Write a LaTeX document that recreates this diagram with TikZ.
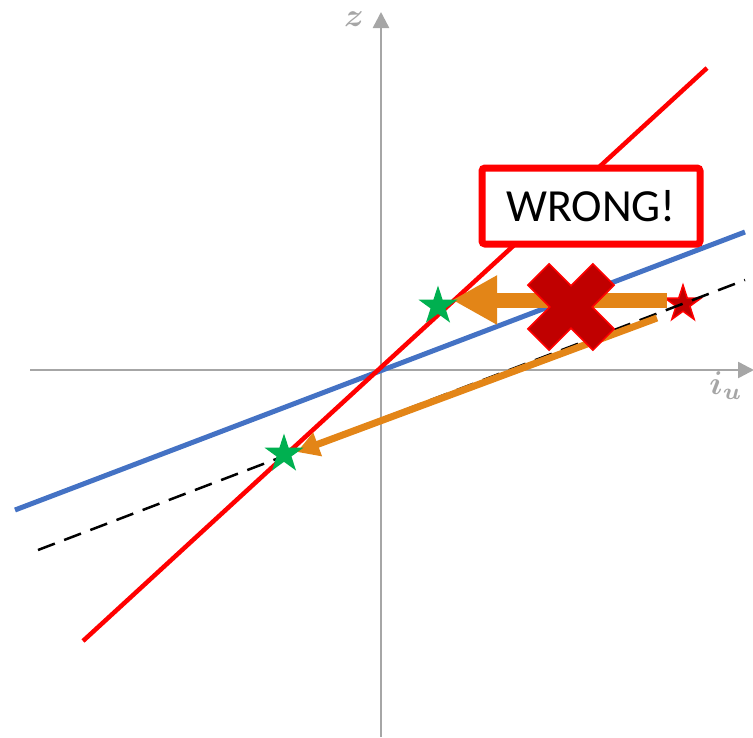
\documentclass[tikz,border=0pt]{standalone}
\usepackage{graphicx}
\usepackage{fontspec}
\newfontfamily\boxfont{Carlito}
\usetikzlibrary{arrows.meta,shapes.geometric}
\definecolor{axisgray}{HTML}{A6A6A6}
\definecolor{lineblue}{HTML}{4472C4}
\definecolor{arroworange}{HTML}{E38517}
\definecolor{stargreen}{HTML}{00B050}
\definecolor{darkred}{HTML}{C00000}
\tikzset{
  axisline/.style={draw=axisgray,line width=2.5pt,-{Triangle[width=16pt,length=16pt]}},
  axislabel/.style={text=axisgray,inner sep=0pt},
  greenstar/.style={star,star points=5,star point ratio=2.618,fill=stargreen,inner sep=0pt,minimum size=41pt},
  redstar/.style={star,star points=5,star point ratio=2.618,fill=darkred,draw=red,line width=1.5pt,inner sep=0pt,minimum size=38pt},
  bigarrow/.style={draw=arroworange,line width=15pt,-{Triangle[width=46pt,length=45pt]}},
  slantarrow/.style={draw=arroworange,line width=7pt,line cap=butt,-{Triangle[width=24pt,length=22pt]}},
  wrongbox/.style={draw=red,fill=white,line width=7pt,rounded corners=3pt,minimum width=218pt,minimum height=76pt,inner sep=0pt,font=\boxfont\fontsize{46}{50}\selectfont},
}
\begin{document}
\begin{tikzpicture}[x=1pt,y=-1pt]
\useasboundingbox (0,0) rectangle (753,737);
% axes
\coordinate (xs) at (30,370);
\coordinate (xe) at (754,370);
\coordinate (ys) at (381,737);
\coordinate (ye) at (381,12);
\draw[axisline] (xs) -- (xe);
\draw[axisline] (ys) -- (ye);
\node[axislabel] (zl) at (354,19) {\scalebox{3.3}{\boldmath$z$}};
\node[axislabel] (il) at (726,386) {\scalebox{3.3}{\boldmath$i_u$}};
% lines
\coordinate (r1) at (83,641);
\coordinate (r2) at (707,68);
\coordinate (b1) at (15,510);
\coordinate (b2) at (745,232);
\coordinate (d1) at (38,550);
\coordinate (d2) at (745,280);
\draw[lineblue,line width=5pt] (b1) -- (b2);
\draw[red,line width=4.5pt] (r1) -- (r2);
% red star
\node[redstar] (rs) at (683,304) {};
% dashed line
\draw[black,line width=2.5pt,dash pattern=on 18pt off 10pt] (d1) -- (d2);
% orange arrows
\coordinate (a1s) at (667,300);
\coordinate (a1e) at (452,300);
\coordinate (a2s) at (657,318);
\coordinate (a2e) at (297,452);
\draw[slantarrow] (a2s) -- (a2e);
\draw[bigarrow] (a1s) -- (a1e);
% green stars
\node[greenstar] (g1) at (438,306) {};
\node[greenstar] (g2) at (284,454) {};
% cross
\fill[darkred,draw=red,line width=1.5pt,shift={(571,307)},rotate=45]
  (46,15) -- (15,15) -- (15,46) -- (-15,46) -- (-15,15) -- (-46,15) -- (-46,-15)
  -- (-15,-15) -- (-15,-46) -- (15,-46) -- (15,-15) -- (46,-15) -- cycle;
% wrong box
\node[wrongbox] (wb) at (591,206) {WRONG!};
\end{tikzpicture}
\end{document}
